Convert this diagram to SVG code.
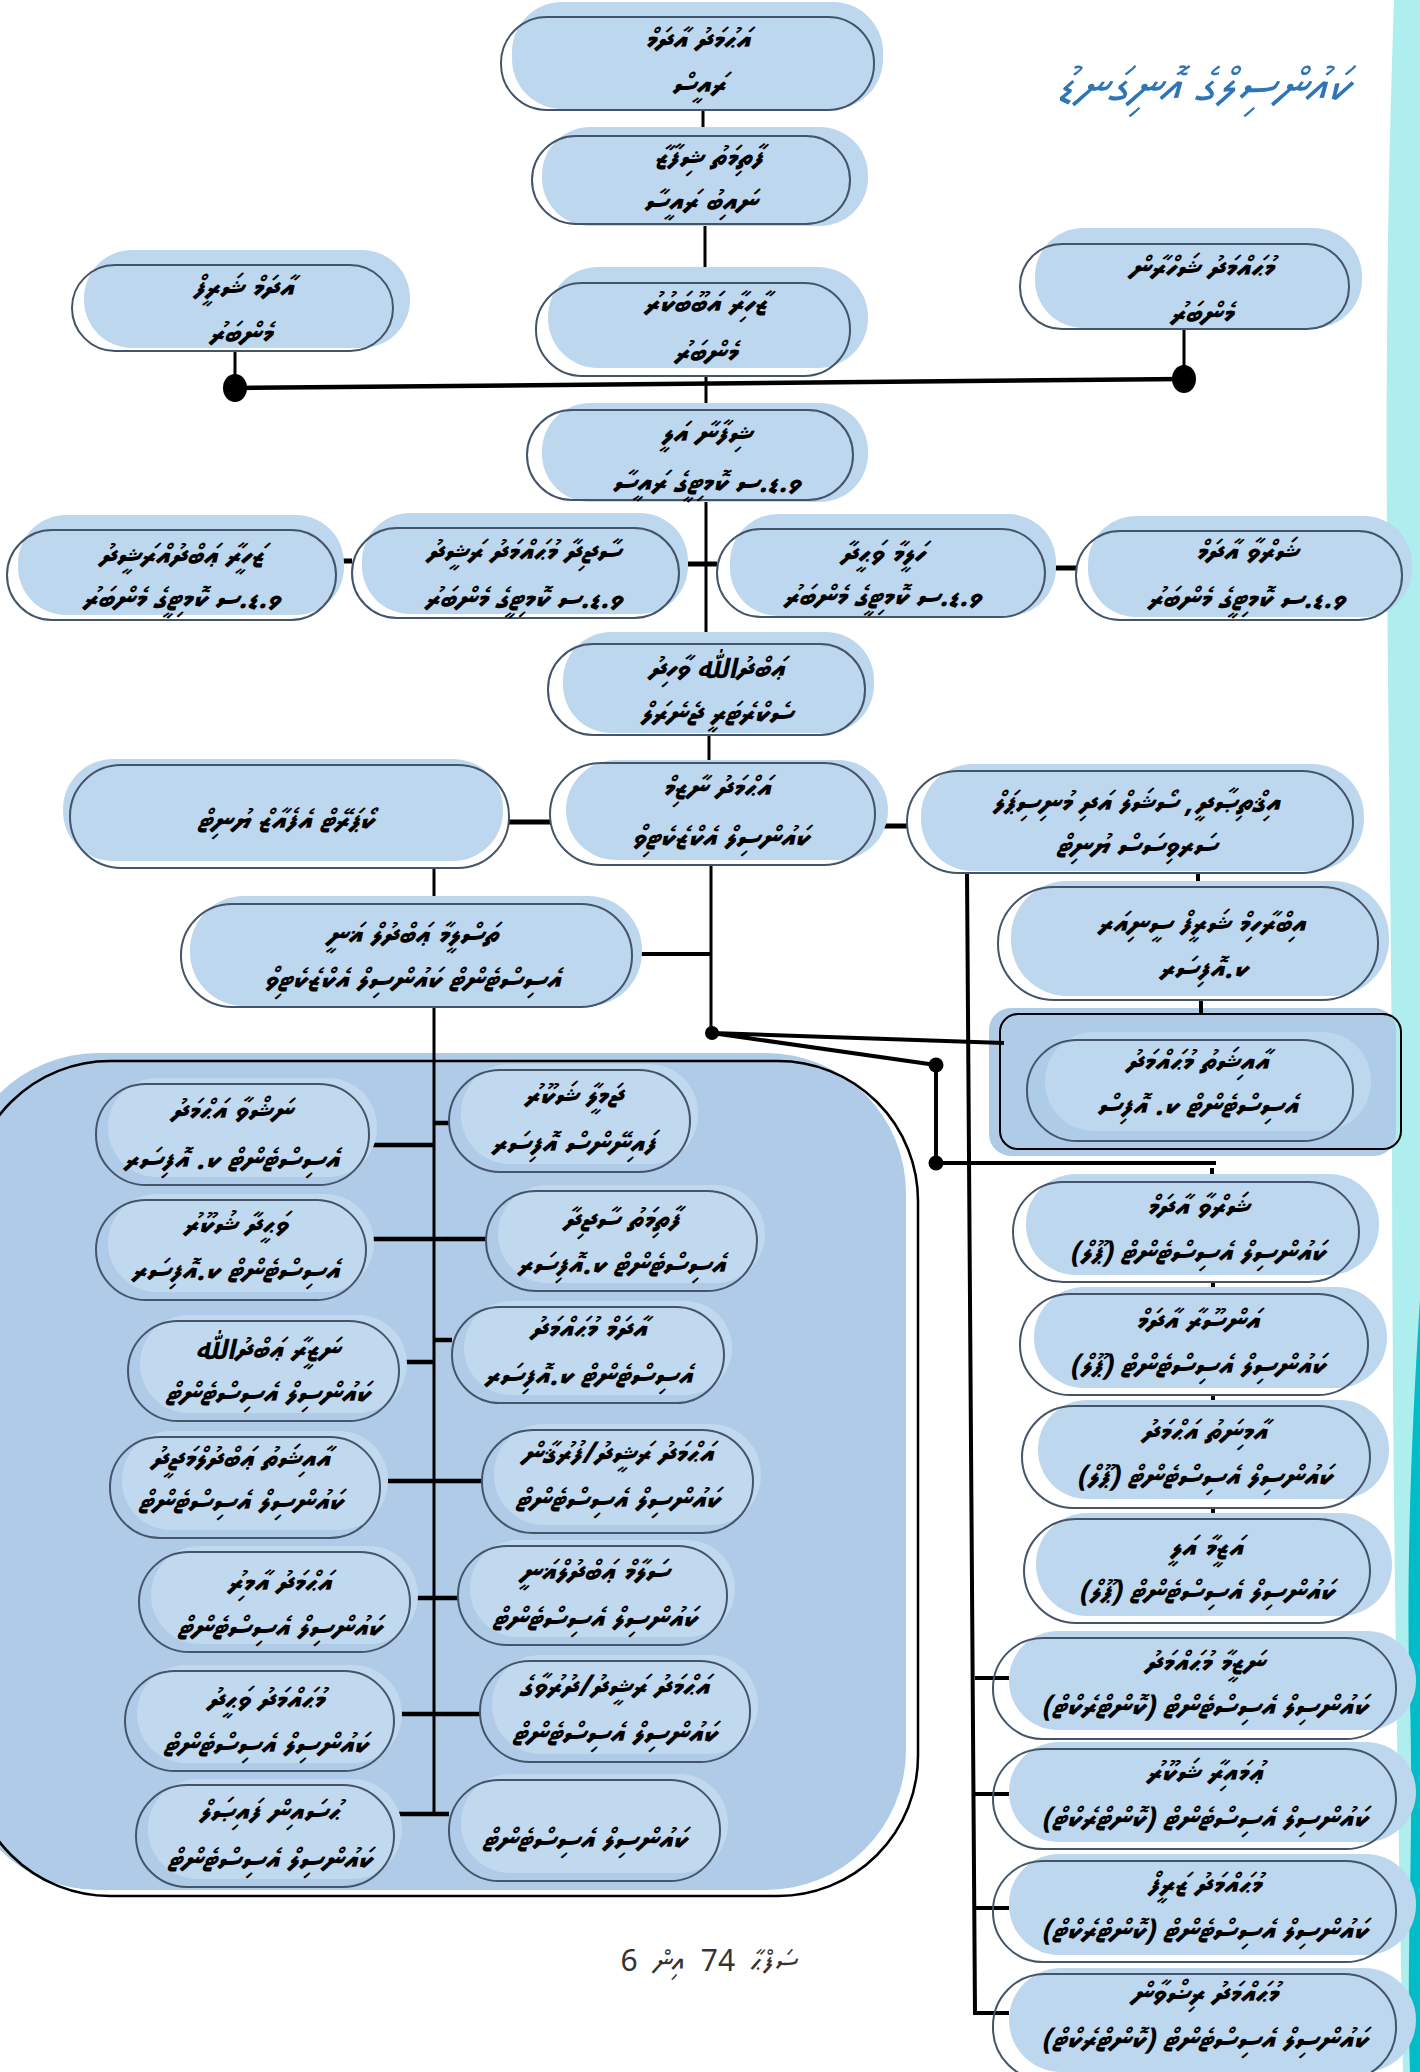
<svg xmlns="http://www.w3.org/2000/svg" width="1420" height="2072" viewBox="0 0 1420 2072">
<style>
.sh{fill:#bdd7ee}
.psh{fill:#c1d9ef}
.ol{fill:none;stroke:#44546a;stroke-width:2}
.t{font-family:'Noto Sans Thaana','MV Faseyha','Faruma','DejaVu Sans','Noto Sans',sans-serif;font-size:30px;font-weight:bold;font-style:italic;fill:#000;text-anchor:middle;direction:rtl;dominant-baseline:central}
.c{stroke:#000;fill:none}
.dot{fill:#000}
</style>
<rect x="0" y="0" width="1420" height="2072" fill="#ffffff"/>
<path d="M1394,0 L1420,0 L1420,2072 L1403,2072 C1398,1800 1392,1500 1392,1100 C1390,700 1380,400 1394,0 Z" fill="#aeeeee"/>
<path d="M1420,1300 C1410,1450 1406,1600 1410,1700 C1414,1850 1406,1950 1410,2072 L1420,2072 Z" fill="#00bcc8"/>
<text x="1202" y="86" style="font-family:'Noto Sans Thaana','MV Faseyha','Faruma','DejaVu Sans',sans-serif;font-size:50px;font-style:italic;fill:#2e75b6;text-anchor:middle;direction:rtl;dominant-baseline:central">ކައުންސިލްގެ އޮނިގަނޑު</text>
<g id="panel">
<rect x="-42" y="1053" width="948" height="837" rx="140" fill="#afcbe7"/>
<rect x="-30" y="1061" width="948" height="835" rx="140" fill="none" stroke="#000" stroke-width="2.5"/>
</g>
<g id="frame">
<rect x="989" y="1008" width="407" height="148" rx="22" fill="#aecbe7"/>
<rect x="1000" y="1014" width="401" height="135" rx="18" fill="none" stroke="#000" stroke-width="2"/>
</g>
<g id="connectors">
<path class="c" stroke-width="3" d="M703,110V136 M705,224V283 M706,376V410 M706,500V645 M709,735V763 M711,865V1033"/>
<path class="c" stroke-width="4.5" d="M235,388L1184,379"/>
<path class="c" stroke-width="3" d="M235,351V388 M1184,329V379"/>
<ellipse class="dot" cx="235" cy="388" rx="12" ry="14"/>
<ellipse class="dot" cx="1184" cy="379" rx="12" ry="14"/>
<path class="c" stroke-width="5" d="M336,561H352 M679,564H717 M1045,568H1076 M509,822H550 M875,826H907"/>
<path class="c" stroke-width="3" d="M434,868V1812"/>
<path class="c" stroke-width="4" d="M632,954H711 M1198,872V887 M1201,1000V1014"/>
<path class="c" stroke-width="4" d="M967,872L975,2013H1009 M975,1678H1009 M975,1794H1009 M975,1908H1009"/>
<path class="c" stroke-width="4" d="M712,1033L1004,1043 M712,1033L936,1065 M936,1065V1163 M936,1163H1216 M1212,1168V1177"/>
<circle class="dot" cx="712" cy="1033" r="7"/>
<circle class="dot" cx="936" cy="1065" r="7.5"/>
<circle class="dot" cx="936" cy="1163" r="7.5"/>
<path class="c" stroke-width="4" d="M1213,1282V1294 M1213,1395V1406 M1213,1508V1519"/>
<path class="c" stroke-width="4.5" d="M369,1145H434 M434,1123H449 M366,1239H486 M399,1362H434 M434,1340H452 M380,1481H482 M410,1598H458 M394,1714H480 M394,1814H449"/>
</g>
<g id="n1"><rect class="sh" x="512" y="2" width="371" height="107" rx="50"/><rect class="ol" x="501" y="17" width="373" height="93" rx="46"/><text class="t" x="697" y="39">އަޙުމަދު އާދަމް</text><text class="t" x="698" y="84">ރައީސް</text></g>
<g id="n2"><rect class="sh" x="542" y="127" width="326" height="99" rx="48"/><rect class="ol" x="532" y="136" width="318" height="88" rx="44"/><text class="t" x="708" y="157">ފާތިމަތު ޝިފާޒާ</text><text class="t" x="700" y="201">ނައިބު ރައީސާ</text></g>
<g id="n3"><rect class="sh" x="548" y="267" width="320" height="101" rx="50"/><rect class="ol" x="536" y="283" width="314" height="93" rx="46"/><text class="t" x="705" y="303">ޒާހިރާ އަބޫބަކުރު</text><text class="t" x="705" y="352">މެންބަރު</text></g>
<g id="nl"><rect class="sh" x="84" y="250" width="326" height="98" rx="48"/><rect class="ol" x="72" y="265" width="321" height="86" rx="43"/><text class="t" x="243" y="287">އާދަމް ޝަރީފް</text><text class="t" x="240" y="333">މެންބަރު</text></g>
<g id="nr"><rect class="sh" x="1035" y="228" width="327" height="100" rx="48"/><rect class="ol" x="1020" y="244" width="329" height="85" rx="42"/><text class="t" x="1201" y="267">މުޙައްމަދު ޝަހްރާން</text><text class="t" x="1201" y="313">މެންބަރު</text></g>
<g id="n4"><rect class="sh" x="542" y="403" width="326" height="99" rx="48"/><rect class="ol" x="527" y="410" width="326" height="90" rx="45"/><text class="t" x="706" y="433">ޝިފާނާ އަލީ</text><text class="t" x="706" y="482">ވ.ޑ.ސ ކޮމިޓީގެ ރައީސާ</text></g>
<g id="r1"><rect class="sh" x="18" y="515" width="326" height="100" rx="48"/><rect class="ol" x="7" y="530" width="329" height="90" rx="45"/><text class="t" x="181" y="555">ޒަހީރާ ޢަބްދުއްރަޝީދު</text><text class="t" x="181" y="598">ވ.ޑ.ސ ކޮމިޓީގެ މެންބަރު</text></g>
<g id="r2"><rect class="sh" x="362" y="513" width="326" height="101" rx="48"/><rect class="ol" x="352" y="528" width="327" height="90" rx="45"/><text class="t" x="523" y="551">ސާޖިދާ މުޙައްމަދު ރަޝީދު</text><text class="t" x="523" y="598">ވ.ޑ.ސ ކޮމިޓީގެ މެންބަރު</text></g>
<g id="r3"><rect class="sh" x="730" y="514" width="326" height="102" rx="48"/><rect class="ol" x="717" y="529" width="328" height="88" rx="44"/><text class="t" x="882" y="553">ހަލީމާ ވަޙީދާ</text><text class="t" x="882" y="596">ވ.ޑ.ސ ކޮމިޓީގެ މެންބަރު</text></g>
<g id="r4"><rect class="sh" x="1088" y="516" width="324" height="101" rx="48"/><rect class="ol" x="1076" y="531" width="326" height="89" rx="44"/><text class="t" x="1246" y="551">ޝަރްވާ އާދަމް</text><text class="t" x="1246" y="598">ވ.ޑ.ސ ކޮމިޓީގެ މެންބަރު</text></g>
<g id="n5"><rect class="sh" x="563" y="632" width="311" height="101" rx="48"/><rect class="ol" x="548" y="644" width="317" height="91" rx="45"/><text class="t" x="716" y="668">ޢަބްދުﷲ ވާހިދު</text><text class="t" x="716" y="713">ސެކްރެޓަރީ ޖެނެރަލް</text></g>
<g id="n6"><rect class="sh" x="566" y="760" width="322" height="100" rx="50"/><rect class="ol" x="550" y="763" width="325" height="102" rx="51"/><text class="t" x="716" y="787">އަޙްމަދު ނާޒިމް</text><text class="t" x="720" y="837">ކައުންސިލް އެކްޒެކެޓިވް</text></g>
<g id="nleft6"><rect class="sh" x="63" y="759" width="440" height="102" rx="50"/><rect class="ol" x="70" y="765" width="439" height="103" rx="51"/><text class="t" x="285" y="820">ކޯޕަރޭޓް އެފެއާޒް ޔުނިޓް</text></g>
<g id="nright6"><rect class="sh" x="921" y="764" width="443" height="107" rx="52"/><rect class="ol" x="907" y="771" width="446" height="102" rx="51"/><text class="t" x="1136" y="802">އިޤްތިޞާދީ، ސޯޝަލް އަދި މުނިސިޕަލް</text><text class="t" x="1136" y="845">ސަރވިސަސް ޔުނިޓް</text></g>
<g id="n7"><rect class="sh" x="190" y="896" width="452" height="110" rx="54"/><rect class="ol" x="181" y="904" width="451" height="103" rx="51"/><text class="t" x="412" y="934">ތަސްލީމާ ޢަބްދުލް ޣަނީ</text><text class="t" x="412" y="979">އެސިސްޓެންޓް ކައުންސިލް އެކްޒެކެޓިވް</text></g>
<g id="n8r"><rect class="sh" x="1011" y="881" width="378" height="115" rx="56"/><rect class="ol" x="998" y="887" width="380" height="113" rx="56"/><text class="t" x="1201" y="923">އިބްރާހިމް ޝަރީފް ސީނިއަރ</text><text class="t" x="1203" y="968">ކ.އޮފިސަރ</text></g>
<g id="n9r"><rect class="sh" x="1045" y="1032" width="326" height="99" rx="49"/><rect class="ol" x="1027" y="1040" width="326" height="101" rx="50"/><text class="t" x="1197" y="1061">އާއިޝަތު މުޙައްމަދު</text><text class="t" x="1197" y="1105">އެސިސްޓެންޓް ކ. އޮފިސް</text></g>
<g id="c1"><rect class="sh" x="1026" y="1174" width="353" height="101" rx="50"/><rect class="ol" x="1013" y="1182" width="346" height="100" rx="50"/><text class="t" x="1197" y="1206">ޝަރްވާ އާދަމް</text><text class="t" x="1197" y="1252">ކައުންސިލް އެސިސްޓެންޓް (ޕޫލް)</text></g>
<g id="c2"><rect class="sh" x="1034" y="1287" width="353" height="101" rx="50"/><rect class="ol" x="1020" y="1294" width="348" height="101" rx="50"/><text class="t" x="1197" y="1320">އަންސޫރާ އާދަމް</text><text class="t" x="1197" y="1365">ކައުންސިލް އެސިސްޓެންޓް (ޕޫލް)</text></g>
<g id="c3"><rect class="sh" x="1038" y="1400" width="351" height="99" rx="49"/><rect class="ol" x="1022" y="1406" width="348" height="102" rx="51"/><text class="t" x="1204" y="1431">އާމިނަތު އަޙްމަދު</text><text class="t" x="1204" y="1476">ކައުންސިލް އެސިސްޓެންޓް (ޕޫލް)</text></g>
<g id="c4"><rect class="sh" x="1036" y="1513" width="356" height="103" rx="51"/><rect class="ol" x="1024" y="1519" width="346" height="104" rx="52"/><text class="t" x="1206" y="1547">އަޒީމާ އަލީ</text><text class="t" x="1206" y="1591">ކައުންސިލް އެސިސްޓެންޓް (ޕޫލް)</text></g>
<g id="c5"><rect class="sh" x="1009" y="1631" width="407" height="99" rx="49"/><rect class="ol" x="993" y="1638" width="403" height="101" rx="50"/><text class="t" x="1204" y="1662">ނަޒީމާ މުޙައްމަދު</text><text class="t" x="1204" y="1706">ކައުންސިލް އެސިސްޓެންޓް (ކޮންޓްރެކްޓް)</text></g>
<g id="c6"><rect class="sh" x="1009" y="1742" width="407" height="100" rx="50"/><rect class="ol" x="993" y="1749" width="403" height="100" rx="50"/><text class="t" x="1204" y="1772">ޢުމައިރާ ޝަކޫރު</text><text class="t" x="1204" y="1818">ކައުންސިލް އެސިސްޓެންޓް (ކޮންޓްރެކްޓް)</text></g>
<g id="c7"><rect class="sh" x="1009" y="1854" width="407" height="101" rx="50"/><rect class="ol" x="993" y="1861" width="403" height="101" rx="50"/><text class="t" x="1204" y="1884">މުޙައްމަދު ޒަރީފް</text><text class="t" x="1204" y="1930">ކައުންސިލް އެސިސްޓެންޓް (ކޮންޓްރެކްޓް)</text></g>
<g id="c8"><rect class="sh" x="1009" y="1968" width="407" height="104" rx="52"/><rect class="ol" x="993" y="1974" width="403" height="106" rx="52"/><text class="t" x="1204" y="1993">މުޙައްމަދު ރިޟްވާން</text><text class="t" x="1204" y="2039">ކައުންސިލް އެސިސްޓެންޓް (ކޮންޓްރެކްޓް)</text></g>
<g id="pl1"><rect class="psh" x="108" y="1078" width="269" height="99" rx="49"/><rect class="ol" x="96" y="1084" width="273" height="101" rx="50"/><text class="t" x="231" y="1110">ނަޝްވާ އަޙްމަދު</text><text class="t" x="231" y="1159">އެސިސްޓެންޓް ކ. އޮފިސަރ</text></g>
<g id="pr1"><rect class="psh" x="461" y="1064" width="237" height="100" rx="49"/><rect class="ol" x="449" y="1070" width="241" height="102" rx="51"/><text class="t" x="573" y="1095">ޖަމީލާ ޝަކޫރު</text><text class="t" x="573" y="1143">ފައިނޭންސް އޮފިސަރ</text></g>
<g id="pl2"><rect class="psh" x="108" y="1194" width="266" height="98" rx="49"/><rect class="ol" x="96" y="1200" width="270" height="100" rx="50"/><text class="t" x="235" y="1224">ވަޙީދާ ޝުކޫރު</text><text class="t" x="235" y="1270">އެސިސްޓެންޓް ކ.އޮފިސަރ</text></g>
<g id="pr2"><rect class="psh" x="498" y="1185" width="267" height="98" rx="49"/><rect class="ol" x="486" y="1191" width="271" height="100" rx="50"/><text class="t" x="621" y="1219">ފާތިމަތު ސާޖިދާ</text><text class="t" x="621" y="1264">އެސިސްޓެންޓް ކ.އޮފިސަރ</text></g>
<g id="pl3"><rect class="psh" x="140" y="1315" width="267" height="98" rx="49"/><rect class="ol" x="128" y="1321" width="271" height="100" rx="50"/><text class="t" x="267" y="1349">ނަޒީރާ ޢަބްދުﷲ</text><text class="t" x="267" y="1393">ކައުންސިލް އެސިސްޓެންޓް</text></g>
<g id="pr3"><rect class="psh" x="464" y="1301" width="268" height="94" rx="47"/><rect class="ol" x="452" y="1307" width="272" height="96" rx="48"/><text class="t" x="588" y="1328">އާދަމް މުޙައްމަދު</text><text class="t" x="588" y="1375">އެސިސްޓެންޓް ކ.އޮފިސަރ</text></g>
<g id="pl4"><rect class="psh" x="122" y="1431" width="266" height="99" rx="49"/><rect class="ol" x="110" y="1437" width="270" height="101" rx="50"/><text class="t" x="240" y="1458">އާއިޝަތު ޢަބްދުލްމަޖީދު</text><text class="t" x="240" y="1501">ކައުންސިލް އެސިސްޓެންޓް</text></g>
<g id="pr4"><rect class="psh" x="494" y="1424" width="267" height="101" rx="50"/><rect class="ol" x="482" y="1430" width="271" height="103" rx="51"/><text class="t" x="617" y="1453">އަޙްމަދު ރަޝީދު/ފުރުޤާން</text><text class="t" x="617" y="1499">ކައުންސިލް އެސިސްޓެންޓް</text></g>
<g id="pl5"><rect class="psh" x="151" y="1546" width="267" height="98" rx="49"/><rect class="ol" x="139" y="1552" width="271" height="100" rx="50"/><text class="t" x="279" y="1582">އަޙްމަދު އާމިރު</text><text class="t" x="279" y="1627">ކައުންސިލް އެސިސްޓެންޓް</text></g>
<g id="pr5"><rect class="psh" x="470" y="1540" width="265" height="97" rx="48"/><rect class="ol" x="458" y="1546" width="269" height="99" rx="49"/><text class="t" x="594" y="1571">ސަލާމް ޢަބްދުލްޣަނީ</text><text class="t" x="594" y="1618">ކައުންސިލް އެސިސްޓެންޓް</text></g>
<g id="pl6"><rect class="psh" x="137" y="1665" width="265" height="98" rx="49"/><rect class="ol" x="125" y="1671" width="269" height="100" rx="50"/><text class="t" x="265" y="1699">މުޙައްމަދު ވަޙީދު</text><text class="t" x="265" y="1744">ކައުންސިލް އެސިސްޓެންޓް</text></g>
<g id="pr6"><rect class="psh" x="492" y="1655" width="266" height="99" rx="49"/><rect class="ol" x="480" y="1661" width="270" height="101" rx="50"/><text class="t" x="614" y="1686">އަޙްމަދު ރަޝީދު/ދުރުވާގެ</text><text class="t" x="614" y="1733">ކައުންސިލް އެސިސްޓެންޓް</text></g>
<g id="pl7"><rect class="psh" x="148" y="1779" width="254" height="100" rx="50"/><rect class="ol" x="136" y="1785" width="258" height="102" rx="51"/><text class="t" x="269" y="1811">ޙުސައިން ފައިޞަލް</text><text class="t" x="269" y="1859">ކައުންސިލް އެސިސްޓެންޓް</text></g>
<g id="pr7"><rect class="psh" x="461" y="1774" width="267" height="99" rx="49"/><rect class="ol" x="449" y="1780" width="271" height="101" rx="50"/><text class="t" x="584" y="1839">ކައުންސިލް އެސިސްޓެންޓް</text></g>
<text x="709" y="1961" style="font-family:'Noto Sans Thaana','Liberation Sans','DejaVu Sans',sans-serif;font-size:30px;word-spacing:8px;fill:#333;text-anchor:middle;direction:rtl;dominant-baseline:central">ސަފްޙާ 74 އިން 6</text>
</svg>
